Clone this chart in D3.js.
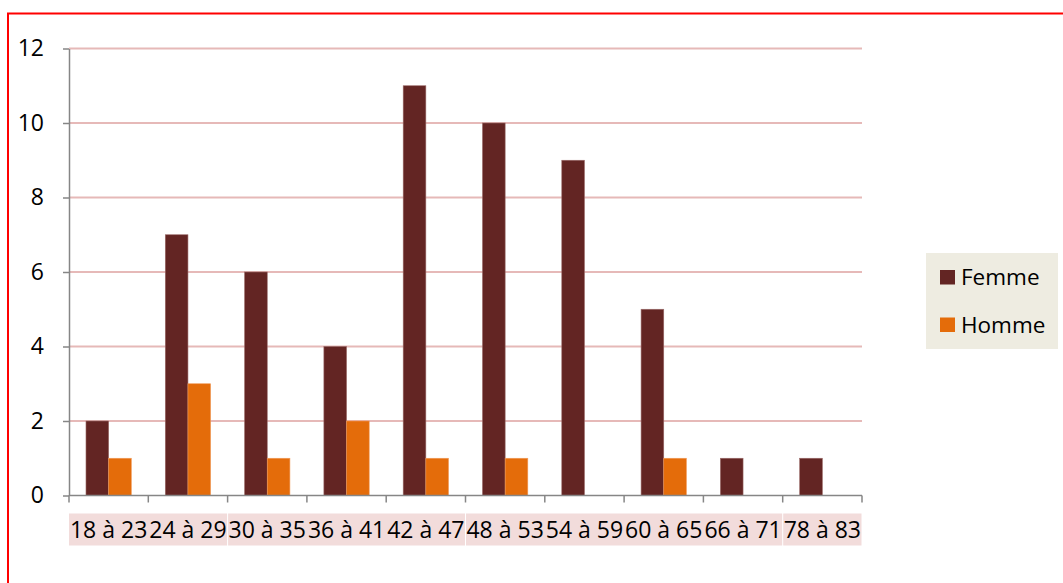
<!DOCTYPE html>
<html>
<head>
<meta charset="utf-8">
<script src="https://cdn.jsdelivr.net/npm/d3@7"></script>
<style>
  body { margin: 0; background: #fff; }
  text { font-family: "Open Sans", sans-serif; fill: #000; }
</style>
</head>
<body>
<div id="my_dataviz"></div>
<script>
// data
const ageGroups = ["18 à 23", "24 à 29", "30 à 35", "36 à 41", "42 à 47", "48 à 53", "54 à 59", "60 à 65", "66 à 71", "78 à 83"];
const femme = [2, 7, 6, 4, 11, 10, 9, 5, 1, 1];
const homme = [1, 3, 1, 2, 1, 1, 0, 1, 0, 0];
const seriesNames = ["Femme", "Homme"];
const yTicks = [0, 2, 4, 6, 8, 10, 12];
// the pink label cells under the axis are merged across these many categories
const labelCells = [2, 3, 4, 1];

const femmeColor = "#632523";
const hommeColor = "#E46C0A";

const W = 1063, H = 583;
const margin = {top: 48.5, left: 69, right: 201, bottom: 87.5};
const width = W - margin.left - margin.right,
      height = H - margin.top - margin.bottom;

const svg = d3.select("#my_dataviz")
  .append("svg")
  .attr("width", W)
  .attr("height", H);

// red frame
svg.append("rect")
  .attr("x", 8).attr("y", 13.5)
  .attr("width", W).attr("height", H)
  .attr("fill", "none")
  .attr("stroke", "#ff0000")
  .attr("stroke-width", 2);

const g = svg.append("g")
  .attr("transform", `translate(${margin.left},${margin.top})`);

const xScale = d3.scaleBand()
  .domain(ageGroups)
  .range([0, width])
  .paddingInner(0)
  .paddingOuter(0);

// gap width 150% -> bar = band / 3.5
const barW = xScale.bandwidth() / 3.5;
const xSub = d3.scaleBand()
  .domain(seriesNames)
  .range([barW * 0.75, barW * 2.75]);

const yScale = d3.scaleLinear()
  .domain([0, 12])
  .range([height, 0]);

// gridlines
g.append("g")
  .selectAll("line")
  .data(yTicks.filter(d => d > 0))
  .join("line")
  .attr("x1", 0).attr("x2", width)
  .attr("y1", d => yScale(d)).attr("y2", d => yScale(d))
  .attr("stroke", "#e6b9b8")
  .attr("stroke-width", 1.8);

// bars
const rows = ageGroups.map((a, i) => ({age: a, Femme: femme[i], Homme: homme[i]}));
const color = d3.scaleOrdinal().domain(seriesNames).range([femmeColor, hommeColor]);

g.append("g")
  .selectAll("g")
  .data(rows)
  .join("g")
  .attr("transform", d => `translate(${xScale(d.age)},0)`)
  .selectAll("rect")
  .data(d => seriesNames.map(k => ({key: k, value: d[k]})).filter(v => v.value > 0))
  .join("rect")
  .attr("x", d => xSub(d.key))
  .attr("width", xSub.bandwidth())
  .attr("y", d => yScale(d.value))
  .attr("height", d => yScale(0) - yScale(d.value))
  .attr("fill", d => color(d.key))
  .attr("stroke", d => d.key == "Femme" ? "#9a6a68" : "#f09a5a")
  .attr("stroke-width", 0.6);

// y axis
const yAxis = g.append("g")
  .call(d3.axisLeft(yScale).tickValues(yTicks).tickSize(6).tickPadding(19).tickSizeOuter(0));
yAxis.select(".domain").attr("stroke", "#868686").attr("stroke-width", 1.5);
yAxis.selectAll(".tick line").attr("stroke", "#868686").attr("stroke-width", 1.5);
yAxis.selectAll(".tick text")
  .style("font-family", "'Open Sans', sans-serif")
  .style("font-size", "23px")
  .attr("fill", "#000");

// x axis (ticks on category borders)
const xAxis = g.append("g")
  .attr("transform", `translate(0,${height})`);
xAxis.append("line")
  .attr("x1", 0).attr("x2", width)
  .attr("stroke", "#868686").attr("stroke-width", 1.5);
xAxis.selectAll(".xtick")
  .data(ageGroups.map(d => xScale(d)).concat([width]))
  .join("line")
  .attr("class", "xtick")
  .attr("x1", d => d).attr("x2", d => d)
  .attr("y1", 0).attr("y2", 7)
  .attr("stroke", "#868686").attr("stroke-width", 1.5);

// pink label cells
let start = 0;
const cells = labelCells.map(n => {
  const c = {from: start, to: start + n};
  start += n;
  return c;
});
xAxis.selectAll(".cell")
  .data(cells)
  .join("rect")
  .attr("class", "cell")
  .attr("x", d => d.from * xScale.step() + (d.from > 0 ? 0.5 : 0))
  .attr("width", d => (d.to - d.from) * xScale.step() - (d.from > 0 ? 0.5 : 0) - 0.5)
  .attr("y", 18)
  .attr("height", 32)
  .attr("fill", "#f2dcdb");

xAxis.selectAll(".xlabel")
  .data(ageGroups)
  .join("text")
  .attr("class", "xlabel")
  .attr("x", d => xScale(d) + xScale.bandwidth() / 2)
  .attr("y", 42)
  .attr("text-anchor", "middle")
  .style("font-size", "23px")
  .text(d => d);

// legend
const legend = svg.append("g").attr("transform", "translate(926,253)");
legend.append("rect")
  .attr("width", 132).attr("height", 96)
  .attr("fill", "#eeece1");
legend.selectAll(".sw")
  .data(seriesNames)
  .join("rect")
  .attr("class", "sw")
  .attr("x", 14)
  .attr("y", (d, i) => 17 + i * 47.5)
  .attr("width", 15).attr("height", 14.5)
  .attr("fill", d => color(d));
legend.selectAll(".lt")
  .data(seriesNames)
  .join("text")
  .attr("class", "lt")
  .attr("x", 35)
  .attr("y", (d, i) => 32 + i * 47.5)
  .style("font-size", "22.5px")
  .text(d => d);
</script>
</body>
</html>
